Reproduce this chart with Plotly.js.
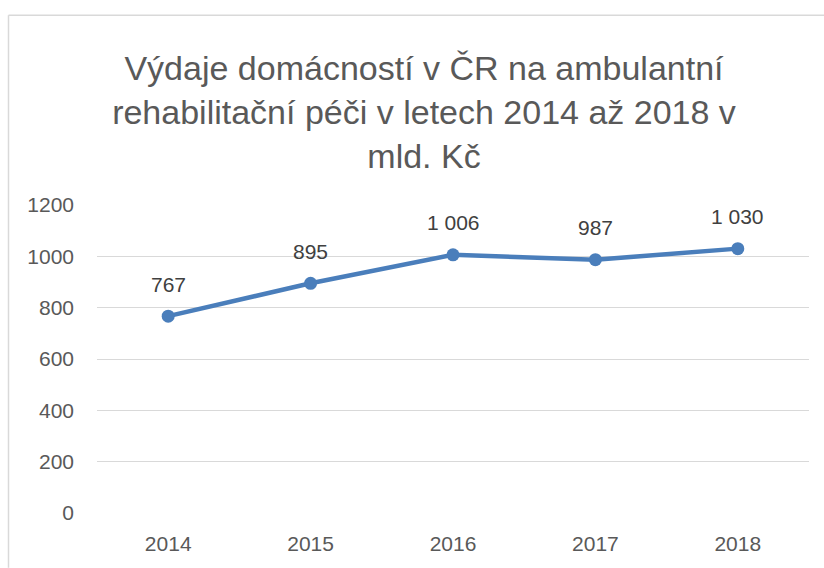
<!DOCTYPE html>
<html>
<head>
<meta charset="utf-8">
<script src="https://cdn.plot.ly/plotly-3.0.1.min.js"></script>
<style>
  html, body { margin: 0; padding: 0; background: #ffffff; }
  #chart { width: 824px; height: 568px; }
</style>
</head>
<body>
<div id="chart"></div>
<script>
// ---- data ----
var years = ['2014', '2015', '2016', '2017', '2018'];
var spending = [767, 895, 1006, 987, 1030];
var yTickValues = [0, 200, 400, 600, 800, 1000, 1200];
var titleText = 'Výdaje domácností v ČR na ambulantní<br>rehabilitační péči v letech 2014 až 2018 v<br>mld. Kč';

function fmt(v) {
  return String(v).replace(/\B(?=(\d{3})+(?!\d))/g, ' ');
}

var FONT = 'Liberation Sans, Arial, sans-serif';
var lineColor = '#4A7EBB';

var trace = {
  type: 'scatter',
  mode: 'lines+markers',
  x: years,
  y: spending,
  line: { color: lineColor, width: 4.5 },
  marker: { color: lineColor, size: 13 },
  hoverinfo: 'x+y',
  showlegend: false
};

// data labels: on a category axis annotations use the category index
var annotations = years.map(function (yr, i) {
  return {
    x: i, y: spending[i], xref: 'x', yref: 'y',
    text: fmt(spending[i]),
    showarrow: false,
    yshift: 32,
    font: { family: FONT, size: 21, color: '#404040' }
  };
});

var borderColor = '#d9d9d9';
var layout = {
  width: 824,
  height: 568,
  margin: { l: 97, r: 15, t: 205, b: 55 },
  paper_bgcolor: '#ffffff',
  plot_bgcolor: '#ffffff',
  title: {
    text: titleText,
    font: { family: FONT, size: 34, color: '#595959' },
    x: 424 / 824,
    xanchor: 'center',
    xref: 'container',
    yref: 'container',
    y: 1 - 80 / 568,
    yanchor: 'top'
  },
  xaxis: {
    type: 'category',
    range: [-0.5, 4.5],
    showgrid: false,
    zeroline: false,
    showline: false,
    ticks: '',
    ticklabelstandoff: 16,
    tickfont: { family: FONT, size: 21, color: '#595959' },
    fixedrange: true
  },
  yaxis: {
    range: [0, 1200],
    tickvals: yTickValues,
    ticktext: yTickValues.map(String),
    showgrid: true,
    gridcolor: '#d9d9d9',
    gridwidth: 1.3,
    zeroline: false,
    showline: false,
    ticks: '',
    ticklabelstandoff: 22,
    tickfont: { family: FONT, size: 21, color: '#595959' },
    fixedrange: true
  },
  annotations: annotations,
  shapes: [
    {
      type: 'line', xref: 'paper', yref: 'paper',
      x0: (8.5 - 97) / 712, x1: (824 - 97) / 712,
      y0: (513.3 - 15.5) / 308, y1: (513.3 - 15.5) / 308,
      line: { color: borderColor, width: 1.5 }, layer: 'below'
    },
    {
      type: 'line', xref: 'paper', yref: 'paper',
      x0: (8.5 - 97) / 712, x1: (8.5 - 97) / 712,
      y0: (513.3 - 568) / 308, y1: (513.3 - 15.5) / 308,
      line: { color: borderColor, width: 1.5 }, layer: 'below'
    }
  ]
};

Plotly.newPlot('chart', [trace], layout, { displayModeBar: false });
</script>
</body>
</html>
